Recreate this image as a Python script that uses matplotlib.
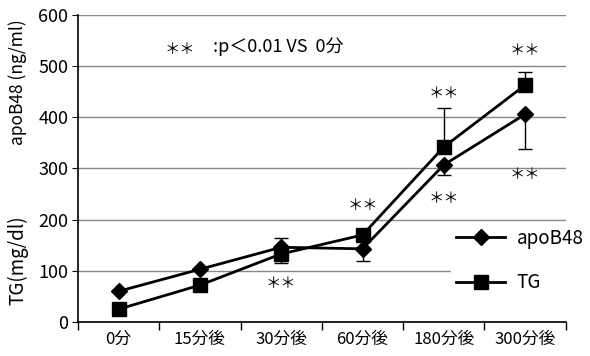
import numpy as np
import matplotlib.pyplot as plt

plt.rcParams['font.family'] = ['Noto Sans CJK JP', 'DejaVu Sans']

# --- Data ---
categories = ['0分', '15分後', '30分後', '60分後', '180分後', '300分後']
apob48 = [60, 103, 146, 143, 307, 406]
tg = [25, 72, 133, 170, 342, 463]
apob48_err_low = [0, 0, 0, 24, 20, 68]
apob48_err_high = [0, 0, 18, 0, 0, 0]
tg_err_low = [0, 0, 18, 0, 0, 0]
tg_err_high = [0, 0, 0, 0, 76, 25]

# significance marks: (category index, y value)
sig_marks = [(2, 76), (3, 228), (4, 447), (4, 242), (5, 531), (5, 289)]

x = np.arange(len(categories))

fig = plt.figure(figsize=(5.9, 3.56), dpi=100)
ax = fig.add_axes([0.132, 0.0955, 0.827, 0.8625])

ax.set_ylim(0, 600)
ax.set_xlim(-0.5, len(categories) - 0.5)
ax.set_yticks(range(0, 601, 100))
ax.grid(axis='y', color='#888888', linewidth=1)
ax.set_axisbelow(True)
for s in ['top', 'right']:
    ax.spines[s].set_visible(False)
ax.spines['left'].set_linewidth(1.2)
ax.spines['bottom'].set_linewidth(1.2)

ax.errorbar(x, apob48, yerr=[apob48_err_low, apob48_err_high], fmt='none',
            ecolor='black', elinewidth=1, capsize=5, zorder=2)
ax.errorbar(x, tg, yerr=[tg_err_low, tg_err_high], fmt='none',
            ecolor='black', elinewidth=1, capsize=5, zorder=2)
ax.plot(x, apob48, color='black', linewidth=2, marker='D', markersize=8,
        label='apoB48', zorder=3)
ax.plot(x, tg, color='black', linewidth=2, marker='s', markersize=10,
        label='TG', zorder=3)

for i, yv in sig_marks:
    ax.text(i, yv, '＊＊', ha='center', va='center', fontsize=11)
ax.text(0.755, 533, '＊＊', ha='center', va='center', fontsize=11)
ax.text(1.16, 538, ':p＜0.01 VS  0分', ha='left', va='center', fontsize=13)

# ticks at category boundaries, labels at centres
ax.set_xticks(np.arange(-0.5, len(categories)), labels=[''] * (len(categories) + 1))
ax.set_xticks(x, labels=categories, minor=True)
ax.tick_params(axis='x', which='major', direction='out', length=6, width=1)
ax.tick_params(axis='x', which='minor', length=0, labelsize=12, pad=6)
ax.tick_params(axis='y', direction='out', length=4, labelsize=13, pad=3)

fig.text(0.03, 0.77, 'apoB48 (ng/ml)', rotation=90, ha='center', va='center', fontsize=12.5)
fig.text(0.03, 0.27, 'TG(mg/dl)', rotation=90, ha='center', va='center', fontsize=13.5)

leg = ax.legend(loc='center left', bbox_to_anchor=(0.745, 0.2), frameon=True,
                fontsize=13.5, handlelength=2.6, labelspacing=1.25, borderpad=0.3,
                handletextpad=0.6, fancybox=False)
leg.get_frame().set_edgecolor('white')
leg.get_frame().set_alpha(1)

fig.savefig('out.png', dpi=100)
